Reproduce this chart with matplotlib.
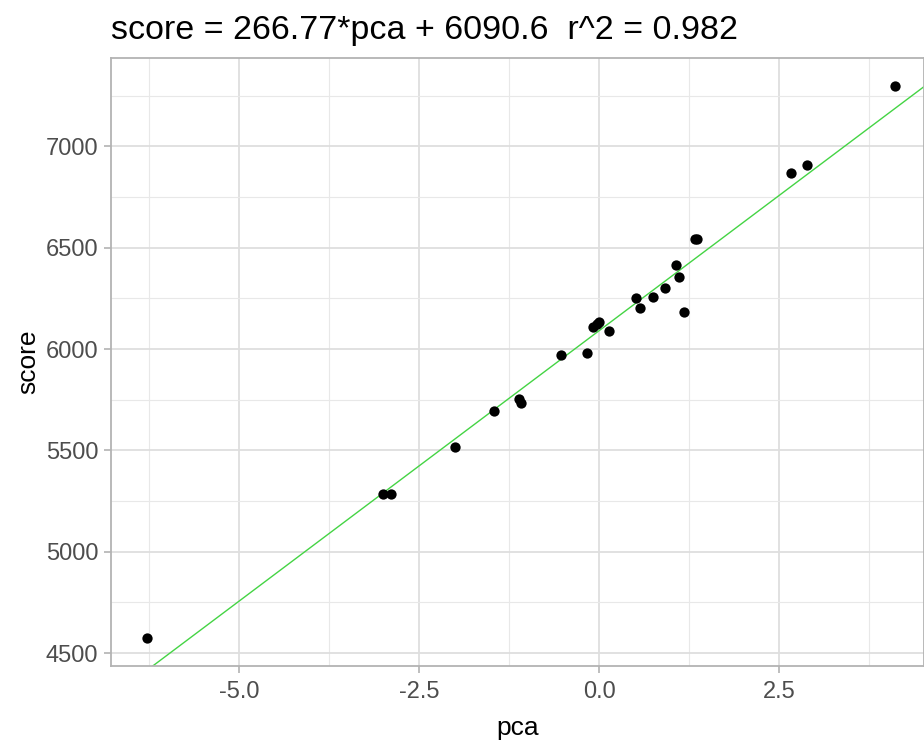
import numpy as np
import matplotlib.pyplot as plt

plt.rcParams['font.family'] = ['Liberation Sans', 'DejaVu Sans']

# values
pca = [-6.28, -3.00, -2.89, -2.00, -1.46, -1.12, -1.08, -0.53, -0.17, -0.08,
       -0.03, 0.00, 0.14, 0.51, 0.56, 0.75, 0.92, 1.06, 1.11, 1.18, 1.33, 1.36,
       2.67, 2.89, 4.11]
score = [4574, 5286, 5286, 5515, 5692, 5754, 5735, 5971, 5981, 6110,
         6125, 6135, 6090, 6253, 6204, 6258, 6303, 6416, 6357, 6180, 6544, 6544,
         6869, 6908, 7297]
slope = 266.77
intercept = 6090.6
r2 = 0.982

xmin, xmax = -6.78, 4.51
ymin, ymax = 4436, 7434

fig = plt.figure(figsize=(9.24, 7.46), dpi=100)
ax = fig.add_axes([0.120, 0.107, 0.880, 0.815])

ax.set_xlim(xmin, xmax)
ax.set_ylim(ymin, ymax)
ax.set_xticks([-5.0, -2.5, 0.0, 2.5])
ax.set_xticklabels(['-5.0', '-2.5', '0.0', '2.5'])
ax.set_yticks([4500, 5000, 5500, 6000, 6500, 7000])
ax.set_xticks(np.arange(-6.25, 4.5, 2.5), minor=True)
ax.set_yticks(np.arange(4750, 7500, 500), minor=True)

ax.grid(which='major', color='#DEDEDE', linewidth=1.3)
ax.grid(which='minor', color='#E8E8E8', linewidth=0.8)
ax.set_axisbelow(True)
ax.tick_params(which='major', colors='#B3B3B3', length=5, width=1.2,
               labelcolor='#4D4D4D', labelsize=17, pad=4)
ax.tick_params(axis='x', pad=6)
ax.tick_params(which='minor', length=0)
for s in ax.spines.values():
    s.set_color('#B3B3B3')
    s.set_linewidth(1.3)

xs = np.array([xmin, xmax])
ax.plot(xs, slope * xs + intercept, color='#44D444', linewidth=1.0, zorder=2)
ax.scatter(pca, score, s=55, color='black', zorder=3, linewidths=0)

ax.set_xlabel('pca', fontsize=19, labelpad=9)
ax.set_ylabel('score', fontsize=19, labelpad=4)
ax.set_title('score = %.2f*pca + %.1f  r^2 = %.3f' % (slope, intercept, r2),
             fontsize=24.5, loc='left', pad=14)

fig.savefig('out.png', dpi=100)
